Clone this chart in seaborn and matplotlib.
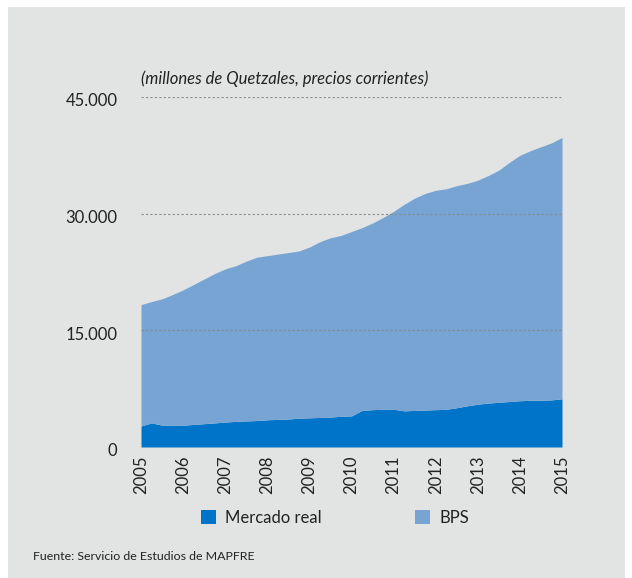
import numpy as np
import pandas as pd
import matplotlib.pyplot as plt
import seaborn as sns
from matplotlib.patches import Rectangle
from matplotlib.transforms import ScaledTranslation

# Colours
DARK_BLUE = '#0074c8'
LIGHT_BLUE = '#77a4d2'
PANEL_BG = '#e2e3e3'
TEXT_COL = '#222222'

# Quarterly data, 2005Q1 .. 2015Q1 (millones de Quetzales)
quarters = [2005 + q / 4 for q in range(41)]
mercado_real = [2700, 3100, 2800, 2800, 2800, 2900, 3000, 3100, 3200, 3300, 3350,
                3400, 3500, 3550, 3600, 3700, 3750, 3800, 3850, 3950, 4000,
                4700, 4800, 4850, 4850, 4650, 4700, 4750, 4800, 4850, 5050,
                5300, 5500, 5650, 5750, 5850, 5950, 6000, 6000, 6050, 6200]
bps = [15600, 15600, 16250, 16800, 17400, 18000, 18600, 19200, 19700, 20000, 20550,
       21000, 21100, 21250, 21400, 21500, 21950, 22600, 23050, 23250, 23700,
       23500, 24000, 24650, 25450, 26550, 27300, 27850, 28200, 28350, 28550,
       28600, 28800, 29250, 29850, 30750, 31550, 32100, 32600, 33050, 33600]
year_ticks = list(range(2005, 2016))
y_ticks = [0, 15000, 30000, 45000]
y_tick_labels = ['0', '15.000', '30.000', '45.000']
series_names = ['Mercado real', 'BPS']

df = pd.DataFrame({'fecha': quarters, 'Mercado real': mercado_real, 'BPS': bps})

sns.set_theme(style="white")
plt.rcParams['font.family'] = ['Lato', 'DejaVu Sans']

fig = plt.figure(figsize=(6.32, 5.78), dpi=100)
fig.patch.set_facecolor('white')
fig.patches.append(Rectangle((8 / 632, 0), 617 / 632, 1 - 7 / 578,
                             transform=fig.transFigure, facecolor=PANEL_BG,
                             edgecolor='none', zorder=-10))

ax = fig.add_axes([141 / 632, 1 - 447 / 578, 421 / 632, 350 / 578])
ax.set_zorder(2)
ax.set_facecolor('none')

polys = ax.stackplot(df['fecha'], df['Mercado real'], df['BPS'],
                     colors=[DARK_BLUE, LIGHT_BLUE], labels=series_names,
                     linewidth=0)

for yv in y_ticks:
    ax.axhline(yv, color='#8a8a8a' if yv else '#b0b0b0', linestyle=(0, (2, 2)),
               linewidth=0.8, zorder=5)

ax.set_xlim(2005, 2015)
ax.set_ylim(0, 45000)
ax.set_xticks(year_ticks)
ax.set_xticklabels([str(y) for y in year_ticks], rotation=90, fontsize=12, color=TEXT_COL)
ax.set_yticks(y_ticks)
ax.set_yticklabels(y_tick_labels, fontsize=12, color=TEXT_COL)
ax.tick_params(axis='x', length=0, pad=6)
ax.tick_params(axis='y', length=0, pad=17)
# y labels sit slightly below their gridlines in the reference
for lbl in ax.get_yticklabels():
    lbl.set_transform(lbl.get_transform() + ScaledTranslation(0, -0.03, fig.dpi_scale_trans))
sns.despine(ax=ax, left=True, bottom=True)
ax.grid(False)

fig.text(141 / 632, 1 - 79 / 578, '(millones de Quetzales, precios corrientes)',
         style='italic', fontsize=12, color=TEXT_COL, va='center', ha='left')

fig.legend(handles=polys, labels=series_names, loc='center left',
           bbox_to_anchor=(201 / 632, 1 - 518 / 578), ncol=2, frameon=False,
           fontsize=12, handlelength=0.9, handleheight=0.9, handletextpad=0.55,
           columnspacing=5.6, borderpad=0, borderaxespad=0, labelcolor=TEXT_COL)

fig.text(33 / 632, 1 - 556 / 578, 'Fuente: Servicio de Estudios de MAPFRE',
         fontsize=8.9, color=TEXT_COL, va='center', ha='left')

fig.savefig('out.png', dpi=100, facecolor='white')
